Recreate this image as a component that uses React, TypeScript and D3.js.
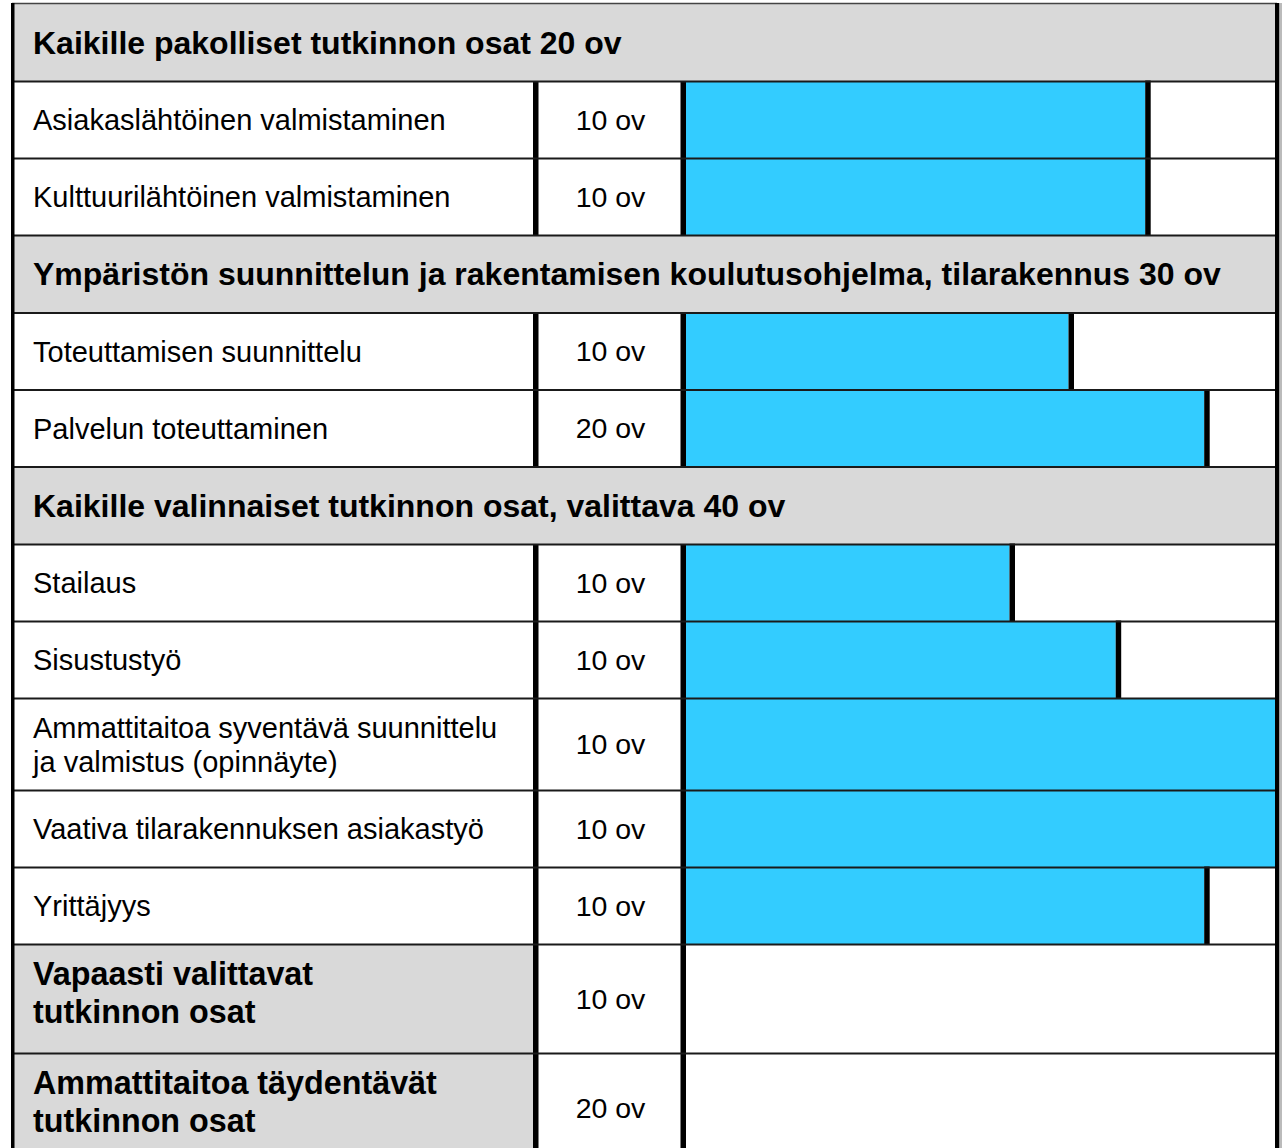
import * as d3 from 'd3';

// Section headers (gray full-width rows)
const sectionTitles = [
  'Kaikille pakolliset tutkinnon osat 20 ov',
  'Ympäristön suunnittelun ja rakentamisen koulutusohjelma, tilarakennus 30 ov',
  'Kaikille valinnaiset tutkinnon osat, valittava 40 ov',
];

// Items per section
const sectionItems = [
  ['Asiakaslähtöinen valmistaminen', 'Kulttuurilähtöinen valmistaminen'],
  ['Toteuttamisen suunnittelu', 'Palvelun toteuttaminen'],
  [
    'Stailaus',
    'Sisustustyö',
    'Ammattitaitoa syventävä suunnittelu\nja valmistus (opinnäyte)',
    'Vaativa tilarakennuksen asiakastyö',
    'Yrittäjyys',
  ],
];
const sectionCredits = [
  ['10 ov', '10 ov'],
  ['10 ov', '20 ov'],
  ['10 ov', '10 ov', '10 ov', '10 ov', '10 ov'],
];
// completion, percent of the bar column
const sectionProgress = [
  [78, 78],
  [65, 88],
  [55, 73, 100, 100, 88],
];

// Bold trailing rows with no bar
const extraLabels = ['Vapaasti valittavat\ntutkinnon osat', 'Ammattitaitoa täydentävät\ntutkinnon osat'];
const extraCredits = ['10 ov', '20 ov'];

const W = 1282;
const H = 1148;
const LEFT = 14;
const RIGHT = 1275;
const COL1 = 536;
const COL2 = 683;
const TOP = 4;
const FONT = '"Liberation Sans", Arial, sans-serif';

type Row =
  | { kind: 'header'; text: string }
  | { kind: 'item'; text: string; credit: string; pct: number }
  | { kind: 'extra'; text: string; credit: string };

const rows: Row[] = [];
sectionTitles.forEach((t, i) => {
  rows.push({ kind: 'header', text: t });
  sectionItems[i].forEach((label, j) =>
    rows.push({ kind: 'item', text: label, credit: sectionCredits[i][j], pct: sectionProgress[i][j] })
  );
});
extraLabels.forEach((label, i) => rows.push({ kind: 'extra', text: label, credit: extraCredits[i] }));

const rowHeight = (r: Row) => {
  if (r.kind === 'header') return 77.5;
  if (r.kind === 'extra') return 109;
  return r.text.includes('\n') ? 92 : 77;
};

export default function App() {
  const x = d3.scaleLinear().domain([0, 100]).range([COL2 + 2, RIGHT]);
  let y = TOP;
  const laid = rows.map((r) => {
    const h = rowHeight(r);
    const out = { r, y0: y, y1: y + h };
    y += h;
    return out;
  });

  return (
    <div style={{ position: 'absolute', left: 0, top: 0, width: W, height: H, background: '#fff' }}>
      <svg width={W} height={H} style={{ display: 'block' }} fontFamily={FONT}>
        {laid.map(({ r, y0, y1 }, i) => {
          const cy = (y0 + y1) / 2;
          const lines = r.text.split('\n');
          const textLines = (bold: boolean, x0: number, size: number, shift: number, lh: number) => (
            <text x={x0} fontSize={size} fontWeight={bold ? 'bold' : 'normal'} fill="#000">
              {lines.map((l, k) => (
                <tspan key={k} x={x0} y={cy + shift + (k - (lines.length - 1) / 2) * lh} dy="0.35em">
                  {l}
                </tspan>
              ))}
            </text>
          );
          if (r.kind === 'header') {
            return (
              <g key={i}>
                <rect x={LEFT} y={y0} width={RIGHT - LEFT} height={y1 - y0} fill="#d9d9d9" />
                {textLines(true, 33, 32, 0, 38)}
              </g>
            );
          }
          const bold = r.kind === 'extra';
          return (
            <g key={i}>
              <rect x={LEFT} y={y0} width={COL1 - LEFT} height={y1 - y0} fill={bold ? '#d9d9d9' : '#fff'} />
              <rect x={COL1} y={y0} width={RIGHT - COL1} height={y1 - y0} fill="#fff" />
              {r.kind === 'item' && (
                <>
                  <rect x={x(0)} y={y0} width={x(r.pct) - x(0)} height={y1 - y0} fill="#33ccff" />
                  {r.pct < 100 && (
                    <rect x={x(r.pct)} y={y0 - 1} width={5.5} height={y1 - y0 + 2} fill="#000" />
                  )}
                </>
              )}
              {bold ? textLines(true, 33, 32.3, -6, 38) : textLines(false, 33, 29, 0, 34)}
              <text x={(COL1 + COL2) / 2 + 1} y={cy} dy="0.35em" fontSize={28.5} textAnchor="middle" fill="#000">
                {r.credit}
              </text>
              <rect x={COL1 - 3} y={y0} width={5.5} height={y1 - y0} fill="#000" />
              <rect x={COL2 - 2.5} y={y0} width={5.5} height={y1 - y0} fill="#000" />
            </g>
          );
        })}
        {laid.slice(1).map(({ y0 }, i) => (
          <line key={i} x1={LEFT} x2={RIGHT} y1={y0} y2={y0} stroke="#1a1a1a" strokeWidth={2} />
        ))}
        <line x1={LEFT - 2} x2={RIGHT + 2} y1={TOP - 0.5} y2={TOP - 0.5} stroke="#444" strokeWidth={1.5} />
        <rect x={11} y={TOP - 1} width={3.5} height={H} fill="#000" />
        <rect x={RIGHT} y={TOP - 1} width={4.5} height={H} fill="#000" />
        <rect x={RIGHT + 4.5} y={TOP - 1} width={3} height={H} fill="#bbb" />
      </svg>
    </div>
  );
}
